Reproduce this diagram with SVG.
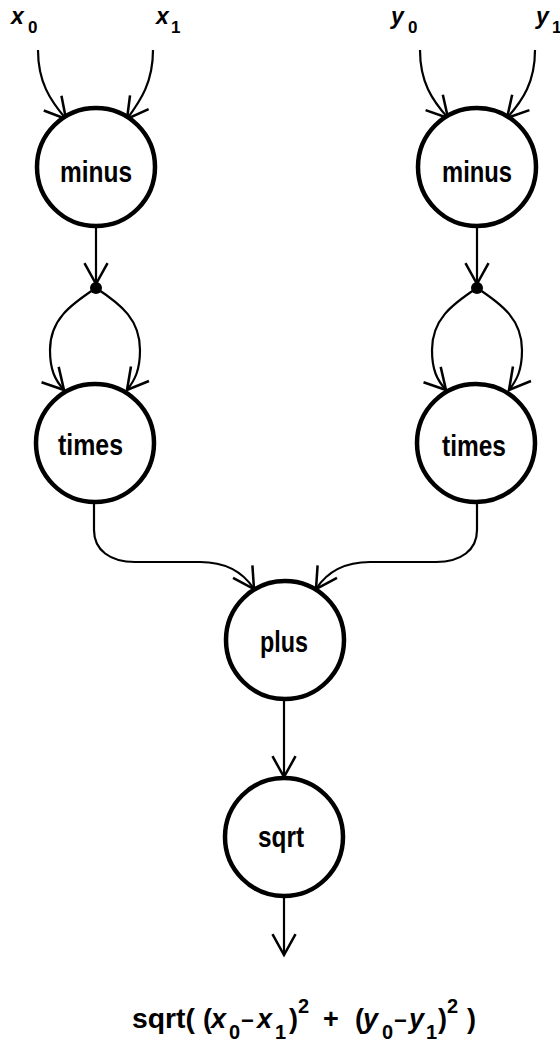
<svg xmlns="http://www.w3.org/2000/svg" width="560" height="1044" viewBox="0 0 560 1044">
<defs>
<style>
.node{fill:#fff;stroke:#000;stroke-width:4.5}
.lbl{font-family:"Liberation Sans",Arial,sans-serif;font-weight:bold;font-size:29px;fill:#000}
.edge{fill:none;stroke:#000;stroke-width:2.2;marker-end:url(#arr)}
.var{font-family:"Liberation Sans",Arial,sans-serif;font-weight:bold;font-style:italic;font-size:23px;fill:#000}
.sub{font-family:"Liberation Sans",Arial,sans-serif;font-weight:bold;font-style:normal;font-size:17px;fill:#000}
.f{font-family:"Liberation Sans",Arial,sans-serif;font-weight:bold;font-size:27px;fill:#000}
.fi{font-style:italic}
.fs{font-size:20px;font-style:normal}
.fm{font-size:22px}
</style>
<marker id="arr" markerUnits="userSpaceOnUse" markerWidth="30" markerHeight="30" viewBox="-22 -13 26 26" refX="0" refY="0" orient="auto" overflow="visible">
<path d="M -18 -10 L 0 0 L -18 10" fill="none" stroke="#000" stroke-width="2.2" stroke-linejoin="miter"/>
</marker>
</defs>
<rect width="560" height="1044" fill="#fff"/>

<g id="connectors">
<path class="edge" d="M 38 50 C 38 82 50 100 66 119"/>
<path class="edge" d="M 153 50 C 153 82 141 100 127 119"/>
<path class="edge" d="M 420 50 C 420 82 432 100 448 118"/>
<path class="edge" d="M 535 50 C 535 82 523 100 507 118"/>
<path class="edge" d="M 96 228 L 96 284"/>
<path class="edge" d="M 477 228 L 477 284"/>
<path class="edge" d="M 96 288 C 70 305 50 320 50 350 C 50 370 55 380 64 390"/>
<path class="edge" d="M 96 288 C 122 305 140 320 140 350 C 140 370 135 380 127 390"/>
<path class="edge" d="M 477 288 C 451 305 432 320 432 350 C 432 370 437 380 446 390"/>
<path class="edge" d="M 477 288 C 503 305 522 320 522 350 C 522 370 517 380 509 390"/>
<path class="edge" d="M 94 502 L 94 530 C 94 550 110 562 135 562 L 200 562 C 225 562 243 572 254 589"/>
<path class="edge" d="M 477 502 L 477 530 C 477 550 461 562 436 562 L 370 562 C 345 562 327 572 316 589"/>
<path class="edge" d="M 284 700 L 284 777"/>
<path class="edge" d="M 284 896 L 284 955"/>
<circle cx="96" cy="288" r="6" fill="#000"/>
<circle cx="477" cy="288" r="6" fill="#000"/>
</g>

<g id="in-x0"><text class="var" x="11" y="24">x<tspan class="sub" x="28" y="33">0</tspan></text></g>
<g id="in-x1"><text class="var" x="156" y="24">x<tspan class="sub" x="171" y="33">1</tspan></text></g>
<g id="in-y0"><text class="var" x="391" y="24">y<tspan class="sub" x="408" y="33">0</tspan></text></g>
<g id="in-y1"><text class="var" x="536" y="24">y<tspan class="sub" x="552" y="33">1</tspan></text></g>

<g id="minus-left"><circle class="node" cx="96" cy="167" r="59"/><text class="lbl" x="60" y="182" textLength="72" lengthAdjust="spacingAndGlyphs">minus</text></g>
<g id="minus-right"><circle class="node" cx="477" cy="167" r="59"/><text class="lbl" x="442" y="182" textLength="70" lengthAdjust="spacingAndGlyphs">minus</text></g>
<g id="times-left"><circle class="node" cx="95" cy="443" r="59"/><text class="lbl" x="58" y="455" textLength="65" lengthAdjust="spacingAndGlyphs">times</text></g>
<g id="times-right"><circle class="node" cx="476" cy="443" r="59"/><text class="lbl" x="442" y="456" textLength="64" lengthAdjust="spacingAndGlyphs">times</text></g>
<g id="plus"><circle class="node" cx="285" cy="640" r="59"/><text class="lbl" x="260" y="652" textLength="48" lengthAdjust="spacingAndGlyphs">plus</text></g>
<g id="sqrt"><circle class="node" cx="284" cy="837" r="59"/><text class="lbl" x="258" y="847" textLength="46" lengthAdjust="spacingAndGlyphs">sqrt</text></g>

<g id="formula">
<text class="f" x="132" y="1028"><tspan x="132" textLength="63" lengthAdjust="spacingAndGlyphs">sqrt(</tspan><tspan x="203">(</tspan><tspan class="fi" x="211">x</tspan><tspan class="fs" x="229" y="1039">0</tspan><tspan class="fm" x="241" y="1028">−</tspan><tspan class="fi" x="257">x</tspan><tspan class="fs" x="275" y="1039">1</tspan><tspan x="289" y="1028">)</tspan><tspan class="fs" x="298" y="1013">2</tspan><tspan x="323" y="1028">+</tspan><tspan x="355">(</tspan><tspan class="fi" x="363">y</tspan><tspan class="fs" x="382" y="1039">0</tspan><tspan class="fm" x="394" y="1028">−</tspan><tspan class="fi" x="409">y</tspan><tspan class="fs" x="426" y="1039">1</tspan><tspan x="438" y="1028">)</tspan><tspan class="fs" x="447" y="1013">2</tspan><tspan x="467" y="1028">)</tspan></text>
</g>
</svg>
